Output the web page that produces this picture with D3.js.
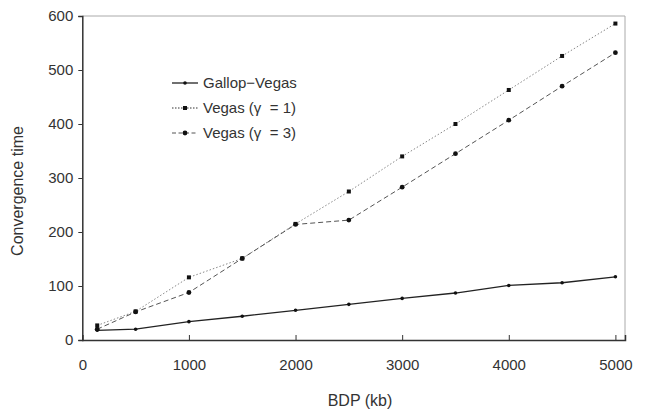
<!DOCTYPE html>
<html><head><meta charset="utf-8">
<script src="https://cdn.jsdelivr.net/npm/d3@7"></script>
<style>body{margin:0;background:#fff}svg{display:block}text{font-family:"Liberation Sans",Arial,sans-serif;fill:#333;white-space:pre}</style>
</head><body><svg id="c" width="649" height="413"></svg>
<script>
const bdp = [140, 500, 1000, 1500, 2000, 2500, 3000, 3500, 4000, 4500, 5000];
const gallop = [18, 20, 34, 44, 55, 66, 77, 87, 101, 106, 117];
const vegas1 = [27, 53, 116, 151, 215, 275, 340, 400, 463, 526, 586];
const vegas3 = [20, 52, 88, 151, 214, 222, 283, 345, 407, 470, 532];
const xTicks = [0, 1000, 2000, 3000, 4000, 5000];
const yTicks = [0, 100, 200, 300, 400, 500, 600];
const seriesNames = ["Gallop−Vegas", "Vegas (γ  = 1)", "Vegas (γ  = 3)"];

const svg = d3.select("#c");
const x = d3.scaleLinear().domain([0, 5090]).range([82.3, 625]);
const y = d3.scaleLinear().domain([0, 600]).range([340, 16]);

svg.append("line").attr("x1",82.3).attr("x2",625).attr("y1",16).attr("y2",16).attr("stroke","#aaa");
svg.append("line").attr("x1",625).attr("x2",625).attr("y1",16).attr("y2",340).attr("stroke","#aaa");

const ya = svg.append("g").attr("transform","translate(82.3,0)")
  .call(d3.axisLeft(y).tickValues(yTicks).tickSize(4).tickPadding(5).tickFormat(d3.format("d")));
const xa = svg.append("g").attr("transform","translate(0,340)")
  .call(d3.axisBottom(x).tickValues(xTicks).tickSize(-5).tickPadding(19).tickFormat(d3.format("d")));
[ya, xa].forEach(a => {
  a.select(".domain").attr("stroke","#333").attr("stroke-width",1.5);
  a.selectAll(".tick line").attr("stroke","#333");
  a.selectAll("text").style("font-size","15px").attr("fill","#333");
});

svg.append("text").attr("x",360).attr("y",406).attr("text-anchor","middle").style("font-size","16px").text("BDP (kb)");
svg.append("text").attr("transform","translate(23,191) rotate(-90)").attr("text-anchor","middle").style("font-size","16px").text("Convergence time");

const styles = [
  {data: gallop, stroke:"#222", dash:null, w:1.3, marker:"circle", r:1.8},
  {data: vegas1, stroke:"#888", dash:"1.5,2", w:1, marker:"square", r:2},
  {data: vegas3, stroke:"#555", dash:"5,3", w:1, marker:"circle", r:2.4}
];
const line = d3.line().x((d,i)=>x(bdp[i])).y(d=>y(d));
styles.forEach(s => {
  svg.append("path").datum(s.data).attr("d", line).attr("fill","none")
    .attr("stroke", s.stroke).attr("stroke-width", s.w).attr("stroke-dasharray", s.dash);
  const g = svg.append("g");
  s.data.forEach((v,i) => {
    if (s.marker === "square") g.append("rect").attr("x", x(bdp[i])-s.r).attr("y", y(v)-s.r).attr("width", 2*s.r).attr("height", 2*s.r).attr("fill","#111");
    else g.append("circle").attr("cx", x(bdp[i])).attr("cy", y(v)).attr("r", s.r).attr("fill","#111");
  });
});

const ly = [83, 108, 133];
styles.forEach((s,i) => {
  svg.append("line").attr("x1",172).attr("x2",198).attr("y1",ly[i]).attr("y2",ly[i])
    .attr("stroke", i===1?"#333":s.stroke).attr("stroke-width", s.w).attr("stroke-dasharray", i===1?"1.5,1.5":(i===2?"4,2.5":null));
  if (s.marker === "square") svg.append("rect").attr("x",183).attr("y",ly[i]-2).attr("width",4).attr("height",4).attr("fill","#111");
  else svg.append("circle").attr("cx",185).attr("cy",ly[i]).attr("r",s.r).attr("fill","#111");
  svg.append("text").attr("x",203).attr("y",ly[i]+5).style("font-size","15px").text(seriesNames[i]);
});
</script></body></html>
